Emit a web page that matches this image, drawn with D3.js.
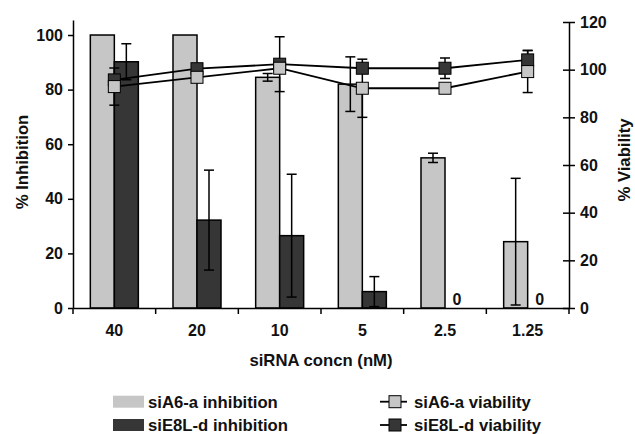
<!DOCTYPE html>
<html><head><meta charset="utf-8">
<script src="https://cdn.jsdelivr.net/npm/d3@7"></script>
<style>body{margin:0;background:#fff}svg{display:block}text{font-family:"Liberation Sans",Arial,sans-serif;font-weight:bold;font-size:16px;fill:#111}.big{font-size:16.7px}</style>
</head><body><svg id="c" width="635" height="434"></svg>
<script>
const categories = ["40","20","10","5","2.5","1.25"];
const inhibA = [100,100,84.5,82,55,24.3];
const inhibAErr = [0,0,1.4,10,1.7,23.2];
const inhibD = [90.2,32.2,26.5,6,0,0];
const inhibDErr = [6.6,18.3,22.5,5.5,0,0];
const viabA = [92.9,96.8,100.6,92.2,92.2,99.2];
const viabAErr = [7.8,0,0,12.2,0,8.8];
const viabD = [95.7,100.4,102.3,100.6,100.6,104.1];
const viabDErr = [0,0,11.5,0,4.3,4];
const leftTicks = [0,20,40,60,80,100];
const rightTicks = [0,20,40,60,80,100,120];
const seriesNames = ["siA6-a inhibition","siE8L-d inhibition","siA6-a viability","siE8L-d viability"];

const LIGHT="#c6c6c6", DARK="#363636";
const svg = d3.select("#c");
const x = d3.scaleBand().domain(categories).range([73,569]).padding(0);
const xs = d3.scaleBand().domain(["a","d"]).range([0,x.bandwidth()]).paddingInner(0).paddingOuter(0.722);
const yL = d3.scaleLinear().domain([0,105.5]).range([308,20]);
const yR = d3.scaleLinear().domain([0,120]).range([308,22]);
const cx = c => x(c)+x.bandwidth()/2;

// bars
const bars = [{k:"a",v:inhibA,e:inhibAErr,f:LIGHT},{k:"d",v:inhibD,e:inhibDErr,f:DARK}];
bars.forEach(s=>{
  const g = svg.append("g");
  categories.forEach((c,i)=>{
    if(s.v[i]<=0) return;
    g.append("rect").attr("x",x(c)+xs(s.k)).attr("width",xs.bandwidth())
     .attr("y",yL(s.v[i])).attr("height",yL(0)-yL(s.v[i]))
     .attr("fill",s.f).attr("stroke","#000").attr("stroke-width",1.5);
  });
});
// zero labels
categories.forEach((c,i)=>{
  if(inhibD[i]===0){
    svg.append("text").attr("x",x(c)+xs("d")+xs.bandwidth()/2).attr("y",yL(0)-3)
      .attr("text-anchor","middle").text("0");
  }
});
function errBar(xp, y0, y1){
  const g = svg.append("g").attr("stroke","#000").attr("stroke-width",1.5);
  g.append("line").attr("x1",xp).attr("x2",xp).attr("y1",y0).attr("y2",y1);
  g.append("line").attr("x1",xp-5).attr("x2",xp+5).attr("y1",y0).attr("y2",y0);
  g.append("line").attr("x1",xp-5).attr("x2",xp+5).attr("y1",y1).attr("y2",y1);
}
bars.forEach(s=>{
  categories.forEach((c,i)=>{
    if(s.e[i]>0){
      const xp = x(c)+xs(s.k)+xs.bandwidth()/2;
      errBar(xp, yL(s.v[i]+s.e[i]), yL(Math.max(0,s.v[i]-s.e[i])));
    }
  });
});

// axes
const axL = svg.append("g").attr("transform","translate(73,0)")
  .call(d3.axisLeft(yL).tickValues(leftTicks).tickSize(5).tickSizeOuter(0).tickPadding(5));
const axR = svg.append("g").attr("transform","translate(569,0)")
  .call(d3.axisRight(yR).tickValues(rightTicks).tickSize(6).tickSizeOuter(0).tickPadding(5));
axR.selectAll(".tick line").attr("x1",-6);
const axB = svg.append("g").attr("transform","translate(0,308)")
  .call(d3.axisBottom(x).tickSize(0).tickPadding(17));
[axL,axR,axB].forEach(a=>{
  a.selectAll("path,line").attr("stroke","#000").attr("stroke-width",1.5);
  a.selectAll("text").attr("font-family",null).attr("font-size",null).style("font-size","16px").style("font-weight","bold").attr("fill","#111");
});
// x boundary ticks
const bounds = categories.map(c=>x(c)).concat([x.range()[1]]);
svg.append("g").selectAll("line").data(bounds).join("line")
  .attr("x1",d=>d).attr("x2",d=>d).attr("y1",308).attr("y2",314)
  .attr("stroke","#000").attr("stroke-width",1.5);

// viability lines
const lineGen = d3.line().x((d,i)=>cx(categories[i])).y(d=>yR(d));
[{v:viabD},{v:viabA}].forEach(s=>{
  svg.append("path").attr("d",lineGen(s.v)).attr("fill","none").attr("stroke","#000").attr("stroke-width",1.8);
});
[{v:viabD,e:viabDErr},{v:viabA,e:viabAErr}].forEach(s=>{
  categories.forEach((c,i)=>{ if(s.e[i]>0) errBar(cx(c), yR(s.v[i]+s.e[i]), yR(s.v[i]-s.e[i])); });
});
[{v:viabD,f:DARK},{v:viabA,f:LIGHT}].forEach(s=>{
  svg.append("g").selectAll("rect").data(s.v).join("rect")
    .attr("x",(d,i)=>cx(categories[i])-6).attr("y",d=>yR(d)-6)
    .attr("width",12).attr("height",12).attr("fill",s.f).attr("stroke","#000").attr("stroke-width",1);
});

// titles
svg.append("text").attr("class","big").attr("x",(73+569)/2).attr("y",360).attr("dy","0.35em").attr("text-anchor","middle").text("siRNA concn (nM)");
svg.append("text").attr("class","big").attr("transform","translate(22,162) rotate(-90)").attr("dy","0.35em").attr("text-anchor","middle").text("% Inhibition");
svg.append("text").attr("class","big").attr("transform","translate(624,160) rotate(-90)").attr("dy","0.35em").attr("text-anchor","middle").text("% Viability");

// legend
const lg = svg.append("g");
[[LIGHT,401.7],[DARK,425]].forEach((d,i)=>{
  lg.append("rect").attr("x",113).attr("y",d[1]-6).attr("width",31).attr("height",12).attr("fill",d[0]);
  lg.append("text").attr("class","big").attr("x",148).attr("y",d[1]).attr("dy","0.35em").text(seriesNames[i]);
  lg.append("line").attr("x1",380).attr("x2",407).attr("y1",d[1]).attr("y2",d[1]).attr("stroke","#000").attr("stroke-width",1.8);
  lg.append("rect").attr("x",389).attr("y",d[1]-6).attr("width",12).attr("height",12).attr("fill",d[0]).attr("stroke","#000").attr("stroke-width",1);
  lg.append("text").attr("class","big").attr("x",414).attr("y",d[1]).attr("dy","0.35em").text(seriesNames[i+2]);
});
</script></body></html>
